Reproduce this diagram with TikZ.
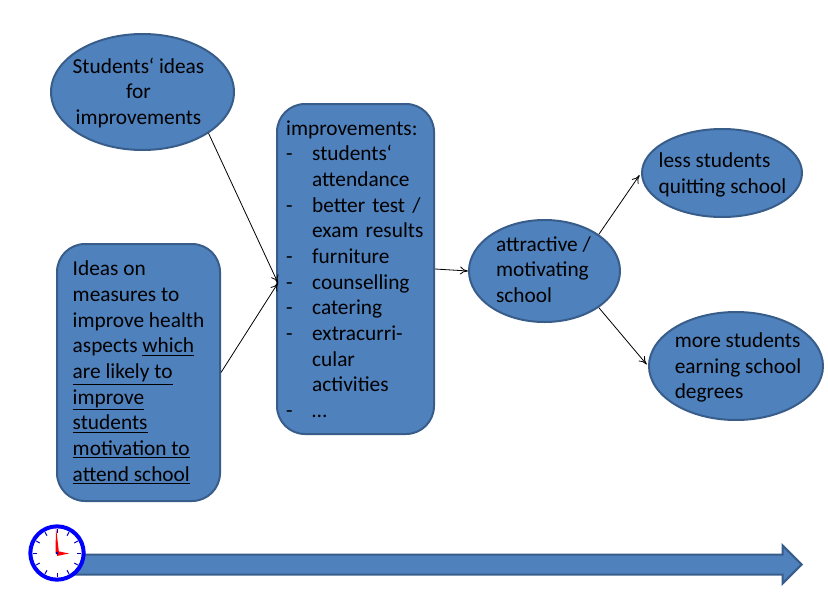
\documentclass[tikz,border=0pt]{standalone}
\usepackage{fontspec}
\setmainfont{Carlito}
\usetikzlibrary{shapes.geometric,shapes.arrows,arrows.meta}
\definecolor{blockfill}{HTML}{4F81BD}
\definecolor{blockedge}{HTML}{385D8A}
\newcommand{\dashitem}{\makebox[19.5pt][l]{-}}
\newcommand{\noitem}{\hspace*{19.5pt}}
\begin{document}
\begin{tikzpicture}[x=0.75pt, y=-0.75pt,
    main/.style = {draw=blockedge, fill=blockfill, line width=1.5pt, inner sep=0pt},
    words/.style = {font=\fontsize{16}{19.25}\selectfont, text=black},
    oval/.style = {main, ellipse},
    ovaltext/.style = {words, inner sep=0pt, align=left},
    box/.style = {main, words, rectangle, rounded corners=21pt, align=left},
    conn/.style = {-{To[length=6pt,width=6pt]}, line width=0.6pt, black}]
\useasboundingbox (0,0) rectangle (828,600);

\node[oval, minimum width=137.25pt, minimum height=87pt] (ideas) at (142.5,92) {};
\node[ovaltext, align=center] (ideastext) at (138.5,93) {Students‘ ideas\\for\\improvements};
\node[box, minimum width=122.25pt, minimum height=192.75pt] (measures) at (138.5,372.5)
  {Ideas on\\measures to\\improve health\\aspects \underline{which}\\\underline{are likely to}\\\underline{improve}\\\underline{students}\\\underline{motivation to}\\\underline{attend school}};
\node[box, minimum width=117.75pt, minimum height=247.5pt, text width=104pt] (improve) at (355.5,269)
  {improvements:\\
   \dashitem students‘\\
   \noitem attendance\\
   \dashitem better test /\\
   \noitem exam results\\
   \dashitem furniture\\
   \dashitem counselling\\
   \dashitem catering\\
   \dashitem extracurri-\\
   \noitem cular\\
   \noitem activities\\
   \dashitem …};
\node[oval, minimum width=113.25pt, minimum height=76.5pt] (school) at (544.5,271) {};
\node[ovaltext] (schooltext) at (543.5,269.5) {attractive /\\motivating\\school};
\node[oval, minimum width=120pt, minimum height=66pt] (less) at (722,173) {};
\node[ovaltext] (lesstext) at (722.5,175) {less students\\quitting school};
\node[oval, minimum width=130.5pt, minimum height=81pt] (more) at (736,366) {};
\node[ovaltext] (moretext) at (738,367.5) {more students\\earning school\\degrees};

\coordinate (join) at (278,283);
\draw[conn] (ideas.-32) -- (join);
\draw[conn] (measures.east) -- (join);
\draw[conn] (improve.east) -- (school.west);
\draw[conn, shorten >=2pt] (school.34) -- (less.west);
\draw[conn, shorten >=1.5pt] (school.-34) -- (more.west);

% time line with clock
\node[single arrow, draw=blockedge, fill=blockfill, line width=1.5pt, inner xsep=0pt, inner ysep=6.75pt,
  minimum height=546pt, minimum width=27pt, single arrow head extend=6.75pt,
  single arrow tip angle=90, anchor=tip] (time) at (803,564.5) {};
\node[circle, draw=blue, fill=white, line width=3pt, minimum size=40pt, inner sep=0pt] (clock) at (57,553) {};
\foreach \a in {0,30,...,330}
  \draw[blue!70!black, line width=0.75pt] (clock.center) ++(\a:20) -- ++(\a:4);
\fill[red] (55.5,553) -- (56,527) -- (59,553) -- cycle;
\fill[red] (57,551) -- (69,553.5) -- (57,556) -- cycle;
\fill[blue!70!black] (clock.center) circle (1.5);
\end{tikzpicture}
\end{document}
